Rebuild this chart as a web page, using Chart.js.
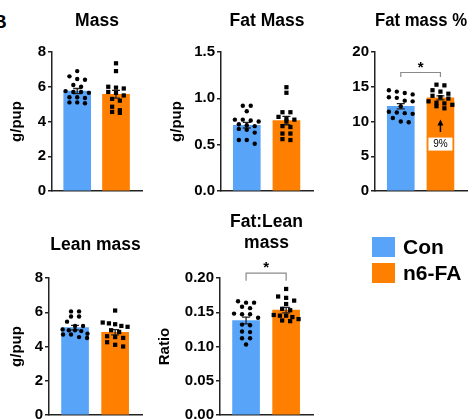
<!DOCTYPE html>
<html><head><meta charset="utf-8">
<script src="https://cdn.jsdelivr.net/npm/chart.js@4.4.1/dist/chart.umd.min.js"></script>
<style>
html,body{margin:0;padding:0;background:#fff;width:473px;height:419px;overflow:hidden;position:relative;font-family:"Liberation Sans",Arial,sans-serif;}
canvas{position:absolute;}
.lbl{position:absolute;font-weight:bold;color:#000;white-space:nowrap;}
.box{position:absolute;width:23px;height:20px;}
</style></head><body>
<div class="lbl" style="left:-7px;top:12px;font-size:19px;line-height:19px;">B</div>
<canvas id="c1" width="150" height="210" style="left:0;top:0"></canvas>
<canvas id="c2" width="160" height="210" style="left:160px;top:0"></canvas>
<canvas id="c3" width="163" height="210" style="left:310px;top:0"></canvas>
<canvas id="c4" width="150" height="225" style="left:0;top:210px"></canvas>
<canvas id="c5" width="170" height="225" style="left:150px;top:210px"></canvas>
<div class="box" style="left:372px;top:237px;background:#58A4F8"></div>
<div class="box" style="left:372px;top:263px;background:#FF8000"></div>
<div class="lbl" style="left:403px;top:237px;font-size:21px;line-height:20px;">Con</div>
<div class="lbl" style="left:403px;top:263px;font-size:21px;line-height:20px;">n6-FA</div>
<script>
// ---- data ----
const groups = ['Con', 'n6-FA'];

const massCon = [6.9, 6.6, 6.45, 6.4, 6.1, 6.0, 5.75, 5.7, 5.7, 5.65, 5.4, 5.4, 5.35, 5.1, 5.1, 5.05];
const massN6  = [7.35, 6.9, 6.0, 5.95, 5.9, 5.7, 5.65, 5.5, 5.3, 5.2, 4.85, 4.65, 4.55, 4.5];
const massMean = [5.75, 5.57];
const massSem  = [0.15, 0.22];
const massTicks = [0, 2, 4, 6, 8];

const fatCon = [0.92, 0.92, 0.86, 0.77, 0.77, 0.76, 0.75, 0.72, 0.71, 0.70, 0.67, 0.66, 0.63, 0.55, 0.55, 0.51];
const fatN6  = [1.12, 1.06, 0.85, 0.85, 0.80, 0.78, 0.77, 0.75, 0.70, 0.69, 0.62, 0.62, 0.56, 0.55];
const fatMean = [0.71, 0.76];
const fatSem  = [0.03, 0.045];
const fatTicks = [0, 0.5, 1.0, 1.5];

const pctCon = [14.5, 14.3, 14.1, 13.9, 13.5, 13.4, 13.0, 12.9, 12.2, 11.4, 11.3, 11.2, 11.1, 10.5, 10.0, 9.9];
const pctN6  = [15.3, 15.2, 14.5, 14.3, 14.0, 13.7, 13.5, 13.3, 12.9, 12.7, 12.6, 12.4, 12.2, 11.9];
const pctMean = [12.2, 13.4];
const pctSem  = [0.38, 0.3];
const pctTicks = [0, 5, 10, 15, 20];

const leanCon = [6.05, 6.05, 5.75, 5.75, 5.45, 5.2, 5.2, 5.0, 4.95, 4.95, 4.9, 4.75, 4.7, 4.7, 4.55, 4.5];
const leanN6  = [6.1, 5.4, 5.35, 5.3, 5.2, 5.15, 4.95, 4.85, 4.6, 4.55, 4.5, 4.25, 4.1, 4.0];
const leanMean = [5.1, 4.83];
const leanSem  = [0.13, 0.15];
const leanTicks = [0, 2, 4, 6, 8];

const ratioCon = [0.166, 0.164, 0.164, 0.158, 0.156, 0.148, 0.147, 0.147, 0.142, 0.132, 0.131, 0.122, 0.121, 0.112, 0.112, 0.103];
const ratioN6  = [0.184, 0.173, 0.171, 0.167, 0.162, 0.155, 0.153, 0.146, 0.145, 0.145, 0.143, 0.140, 0.138, 0.137];
const ratioMean = [0.138, 0.153];
const ratioSem  = [0.005, 0.004];
const ratioTicks = [0, 0.05, 0.10, 0.15, 0.20];

const pctSig = {y: 17.05, low: 16.4, label: '*'};
const ratioSig = {y: 0.207, low: 0.196, label: '*'};
const pctChange = {text: '9%', arrowFrom: 8.5, arrowTo: 10.3, boxAt: 6.75};

// ---- drawing ----
const FONT = "'Liberation Sans', Arial, sans-serif";
Chart.defaults.font.family = FONT;
const COLORS = ['#58A4F8', '#FF8000'];

function swarm(values, center, yMax) {
  const sorted = values.slice().sort((a, b) => b - a);
  const bin = yMax * 0.032;
  const rows = []; let cur = null;
  for (const v of sorted) {
    if (!cur || cur[0] - v > bin) { cur = [v]; rows.push(cur); } else cur.push(v);
  }
  const out = [];
  rows.forEach(r => {
    const n = r.length;
    const step = n > 1 ? Math.min(0.2, 0.62 / (n - 1)) : 0;
    r.forEach((v, k) => out.push({x: center + (k - (n - 1) / 2) * step, y: v}));
  });
  return out;
}

function makePanel(id, o) {
  const overlay = {
    id: 'overlay_' + id,
    afterDatasetDraw(chart, args) {
      if (args.index !== 0) return;
      const ctx = chart.ctx, xs = chart.scales.x, ys = chart.scales.y;
      ctx.save();
      ctx.strokeStyle = '#222'; ctx.lineWidth = 1.3;
      o.means.forEach((m, i) => {
        const x = xs.getPixelForValue(i);
        const t = ys.getPixelForValue(m + o.sem[i]);
        const b = ys.getPixelForValue(m - o.sem[i]);
        ctx.beginPath();
        ctx.moveTo(x, t); ctx.lineTo(x, b);
        ctx.moveTo(x - 4, t); ctx.lineTo(x + 4, t);
        ctx.moveTo(x - 4, b); ctx.lineTo(x + 4, b);
        ctx.stroke();
      });
      ctx.restore();
    },
    afterDraw(chart) {
      const ctx = chart.ctx, xs = chart.scales.x, ys = chart.scales.y;
      ctx.save();
      if (o.sig) {
        const x0 = xs.getPixelForValue(0), x1 = xs.getPixelForValue(1);
        const y = ys.getPixelForValue(o.sig.y), yl = ys.getPixelForValue(o.sig.low);
        ctx.strokeStyle = '#8a8a8a'; ctx.lineWidth = 1.2;
        ctx.beginPath();
        ctx.moveTo(x0, yl); ctx.lineTo(x0, y); ctx.lineTo(x1, y); ctx.lineTo(x1, yl);
        ctx.stroke();
        ctx.fillStyle = '#000';
        ctx.font = 'bold 15px ' + FONT;
        ctx.textAlign = 'center'; ctx.textBaseline = 'middle';
        ctx.fillText(o.sig.label, (x0 + x1) / 2, y - 5);
      }
      if (o.change) {
        const x = xs.getPixelForValue(1);
        const yA = ys.getPixelForValue(o.change.arrowFrom), yB = ys.getPixelForValue(o.change.arrowTo);
        ctx.strokeStyle = '#000'; ctx.fillStyle = '#000'; ctx.lineWidth = 1.5;
        ctx.beginPath(); ctx.moveTo(x, yA); ctx.lineTo(x, yB + 4); ctx.stroke();
        ctx.beginPath(); ctx.moveTo(x, yB); ctx.lineTo(x - 3, yB + 6); ctx.lineTo(x + 3, yB + 6); ctx.closePath(); ctx.fill();
        const yc = ys.getPixelForValue(o.change.boxAt);
        ctx.fillStyle = '#fff';
        ctx.fillRect(x - 12, yc - 6.5, 24, 13);
        ctx.fillStyle = '#000';
        ctx.font = '10px ' + FONT;
        ctx.textAlign = 'center'; ctx.textBaseline = 'middle';
        ctx.fillText(o.change.text, x, yc + 0.5);
      }
      ctx.restore();
    }
  };
  return new Chart(document.getElementById(id), {
    type: 'bar',
    data: {
      datasets: [
        {type: 'bar', order: 2, data: o.means.map((m, i) => ({x: i, y: m})), backgroundColor: COLORS, barThickness: 27, borderWidth: 0},
        {type: 'scatter', order: 0, clip: false, data: swarm(o.con, 0, o.ticks[o.ticks.length - 1]), pointStyle: 'circle', radius: 2.2, backgroundColor: '#000', borderWidth: 0},
        {type: 'scatter', order: 0, clip: false, data: swarm(o.n6, 1, o.ticks[o.ticks.length - 1]), pointStyle: 'rect', radius: 3.0, backgroundColor: '#000', borderWidth: 0}
      ]
    },
    options: {
      responsive: false, animation: false, events: [],
      layout: {padding: {left: 0, right: o.padR, top: 0, bottom: o.padB}},
      plugins: {
        legend: {display: false}, tooltip: {enabled: false},
        title: {display: true, text: o.title, fullSize: false, color: '#000',
                font: {size: 17.5, weight: 'bold', family: FONT}, padding: {top: o.tTop, bottom: o.tBot}}
      },
      scales: {
        x: {type: 'linear', offset: false, min: -0.65, max: 1.67, ticks: {display: false}, grid: {display: false, offset: false},
            border: {display: true, color: '#222', width: 1.5}, afterFit: s => { s.height = 0; }},
        y: {min: 0, max: o.ticks[o.ticks.length - 1],
            afterBuildTicks: s => { s.ticks = o.ticks.map(v => ({value: v})); },
            afterFit: s => { s.width = o.yWidth; },
            ticks: {color: '#000', padding: 2, font: {size: 15, weight: 'bold', family: FONT}, callback: v => Number(v).toFixed(o.dec)},
            grid: {display: true, drawOnChartArea: false, drawTicks: true, tickLength: 4, color: '#222', lineWidth: 1.5},
            border: {display: true, color: '#222', width: 1.5},
            title: {display: !!o.yTitle, text: o.yTitle || '', color: '#000', font: {size: 15, weight: 'bold', family: FONT}, padding: {top: o.yTitlePad || 0, bottom: 0}}
        }
      }
    },
    plugins: [overlay]
  });
}

makePanel('c1', {title: 'Mass', con: massCon, n6: massN6, means: massMean, sem: massSem, ticks: massTicks, dec: 0,
  yTitle: 'g/pup', yTitlePad: 8, yWidth: 52, padR: 8, padB: 19, tTop: 11, tBot: 20});
makePanel('c2', {title: 'Fat Mass', con: fatCon, n6: fatN6, means: fatMean, sem: fatSem, ticks: fatTicks, dec: 1,
  yTitle: 'g/pup', yTitlePad: 8, yWidth: 61, padR: 7, padB: 19, tTop: 11, tBot: 20});
makePanel('c3', {title: 'Fat mass %', con: pctCon, n6: pctN6, means: pctMean, sem: pctSem, ticks: pctTicks, dec: 0,
  yWidth: 65, padR: 6, padB: 19, tTop: 11, tBot: 20, sig: pctSig, change: pctChange});
makePanel('c4', {title: 'Lean mass', con: leanCon, n6: leanN6, means: leanMean, sem: leanSem, ticks: leanTicks, dec: 0,
  yTitle: 'g/pup', yTitlePad: 8, yWidth: 49, padR: 8, padB: 20, tTop: 24.5, tBot: 22.5});
makePanel('c5', {title: ['Fat:Lean', 'mass'], con: ratioCon, n6: ratioN6, means: ratioMean, sem: ratioSem, ticks: ratioTicks, dec: 2,
  yTitle: 'Ratio', yTitlePad: 6, yWidth: 70, padR: 7, padB: 20, tTop: 1.5, tBot: 24.5, sig: ratioSig});
</script>
</body></html>
